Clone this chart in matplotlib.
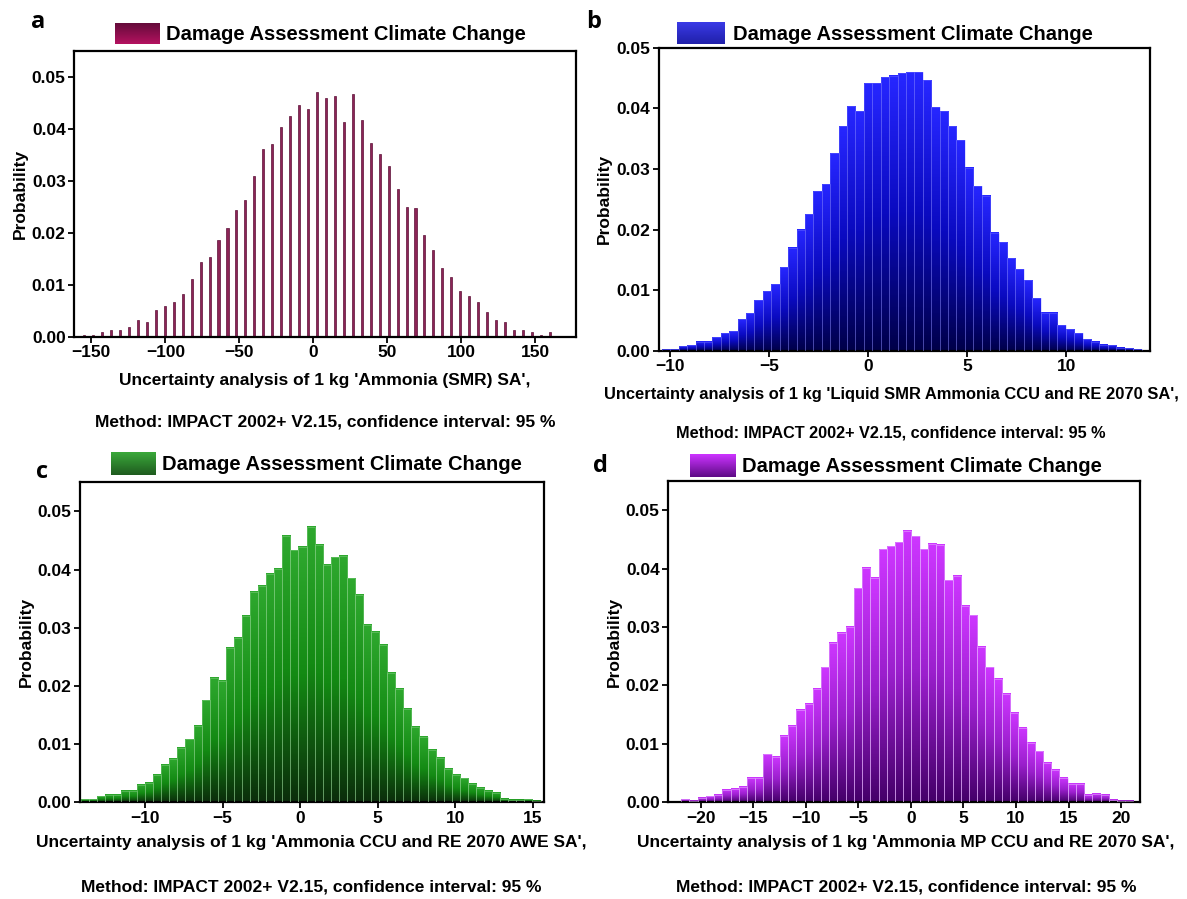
import numpy as np
import matplotlib
matplotlib.use("Agg")
import matplotlib.pyplot as plt
from matplotlib.colors import LinearSegmentedColormap

# ---------------- data ----------------
# Panel a: Ammonia (SMR) SA  (thin bars at bin centres)
a_start, a_step = -154.8, 6.05
a_vals = [0.0003, 0.0004, 0.0009, 0.0013, 0.0014, 0.0020, 0.0032, 0.0028, 0.0052, 0.0060,
          0.0068, 0.0083, 0.0111, 0.0145, 0.0154, 0.0187, 0.0210, 0.0244, 0.0263, 0.0310,
          0.0361, 0.0372, 0.0403, 0.0425, 0.0446, 0.0439, 0.0472, 0.0460, 0.0464, 0.0413,
          0.0467, 0.0418, 0.0374, 0.0351, 0.0329, 0.0285, 0.0250, 0.0248, 0.0197, 0.0168,
          0.0132, 0.0116, 0.0089, 0.0078, 0.0067, 0.0049, 0.0033, 0.0029, 0.0013, 0.0014,
          0.0010, 0.0003, 0.0009, 0.0002, 0.0002]

# Panel b: Liquid SMR Ammonia CCU and RE 2070 SA
b_start, b_step = -10.43, 0.425
b_vals = [0.0002, 0.0003, 0.0007, 0.0009, 0.0015, 0.0015, 0.0023, 0.0029, 0.0033, 0.0052,
          0.0062, 0.0083, 0.0098, 0.0110, 0.0138, 0.0170, 0.0200, 0.0226, 0.0264, 0.0275,
          0.0326, 0.0370, 0.0403, 0.0395, 0.0441, 0.0441, 0.0451, 0.0454, 0.0458, 0.0460,
          0.0460, 0.0446, 0.0402, 0.0395, 0.0371, 0.0347, 0.0302, 0.0271, 0.0256, 0.0195,
          0.0179, 0.0153, 0.0135, 0.0116, 0.0087, 0.0063, 0.0063, 0.0042, 0.0036, 0.0029,
          0.0019, 0.0015, 0.0010, 0.0009, 0.0005, 0.0004, 0.0002]

# Panel c: Ammonia CCU and RE 2070 AWE SA
c_start, c_step = -14.15, 0.52
c_vals = [0.0005, 0.0005, 0.0010, 0.0013, 0.0013, 0.0020, 0.0020, 0.0030, 0.0033, 0.0047,
          0.0064, 0.0075, 0.0094, 0.0108, 0.0131, 0.0175, 0.0214, 0.0209, 0.0265, 0.0283,
          0.0321, 0.0361, 0.0372, 0.0392, 0.0401, 0.0458, 0.0433, 0.0439, 0.0474, 0.0443,
          0.0408, 0.0421, 0.0423, 0.0385, 0.0357, 0.0305, 0.0293, 0.0271, 0.0223, 0.0195,
          0.0161, 0.0129, 0.0113, 0.0090, 0.0076, 0.0058, 0.0047, 0.0041, 0.0031, 0.0025,
          0.0019, 0.0016, 0.0006, 0.0004, 0.0004, 0.0005, 0.0002]

# Panel d: Ammonia MP CCU and RE 2070 SA
d_start, d_step = -22.62, 0.782
d_vals = [0.0001, 0.0005, 0.0003, 0.0008, 0.0010, 0.0012, 0.0021, 0.0023, 0.0027, 0.0042,
          0.0042, 0.0082, 0.0078, 0.0113, 0.0131, 0.0158, 0.0169, 0.0194, 0.0231, 0.0273,
          0.0290, 0.0300, 0.0366, 0.0401, 0.0384, 0.0433, 0.0438, 0.0445, 0.0465, 0.0455,
          0.0433, 0.0442, 0.0441, 0.0380, 0.0387, 0.0336, 0.0320, 0.0266, 0.0231, 0.0211,
          0.0186, 0.0153, 0.0128, 0.0101, 0.0087, 0.0067, 0.0055, 0.0042, 0.0031, 0.0031,
          0.0013, 0.0015, 0.0013, 0.0004, 0.0002, 0.0002, 0.0001]

legend_label = "Damage Assessment Climate Change"
method_label = "Method: IMPACT 2002+ V2.15, confidence interval: 95 %"
xlabels = ["Uncertainty analysis of 1 kg 'Ammonia (SMR) SA',",
           "Uncertainty analysis of 1 kg 'Liquid SMR Ammonia CCU and RE 2070 SA',",
           "Uncertainty analysis of 1 kg 'Ammonia CCU and RE 2070 AWE SA',",
           "Uncertainty analysis of 1 kg 'Ammonia MP CCU and RE 2070 SA',"]
panel_letters = ["a", "b", "c", "d"]
a_xticks = [-150, -100, -50, 0, 50, 100, 150]
b_xticks = [-10, -5, 0, 5, 10]
c_xticks = [-10, -5, 0, 5, 10, 15]
d_xticks = [-20, -15, -10, -5, 0, 5, 10, 15, 20]
yticks = [0.00, 0.01, 0.02, 0.03, 0.04, 0.05]

# ---------------- figure ----------------
W, H = 1187, 899
plt.rcParams['font.family'] = ['Liberation Sans', 'DejaVu Sans']
plt.rcParams['font.weight'] = 'bold'
fig = plt.figure(figsize=(W / 100, H / 100), dpi=100)


def rect(l, t, r, b):
    return [l / W, 1 - b / H, (r - l) / W, (b - t) / H]


def fx(x):
    return x / W


def fy(y):
    return 1 - y / H


def style_axes(ax, xlim, ylim, xticks, tick_fs=12.5):
    ax.set_xlim(*xlim)
    ax.set_ylim(*ylim)
    ax.set_xticks(xticks)
    ax.set_yticks(yticks)
    ax.set_yticklabels([f"{v:.2f}" for v in yticks])
    for s in ax.spines.values():
        s.set_linewidth(1.6)
        s.set_color('black')
    ax.tick_params(direction='out', length=4, width=1.3, labelsize=tick_fs,
                   top=False, right=False, pad=2)
    for lab in ax.get_xticklabels() + ax.get_yticklabels():
        lab.set_fontweight('bold')
    ax.set_ylabel("Probability", fontsize=12.5, fontweight='bold', labelpad=3)


def gradient_bars(ax, start, step, vals, cmap, edge):
    lefts = start + step * np.arange(len(vals))
    bars = ax.bar(lefts, vals, width=step, align='edge', facecolor='none',
                  edgecolor=edge, linewidth=0.6, zorder=3)
    grad = np.linspace(0, 1, 64).reshape(-1, 1)
    for p in bars.patches:
        x0, w, h = p.get_x(), p.get_width(), p.get_height()
        ax.imshow(grad, extent=(x0, x0 + w, 0, h), origin='lower', aspect='auto',
                  cmap=cmap, zorder=2, interpolation='bilinear')


def legend_patch(l, t, r, b, top_c, bot_c, text_x, text_y, fs=14.5):
    lax = fig.add_axes(rect(l, t, r, b))
    cm = LinearSegmentedColormap.from_list('lg', [bot_c, top_c])
    lax.imshow(np.linspace(0, 1, 32).reshape(-1, 1), origin='lower', aspect='auto', cmap=cm)
    lax.set_axis_off()
    fig.text(fx(text_x), fy(text_y), legend_label, ha='left', va='center',
             fontsize=fs, fontweight='bold')


# ---- panel a ----
axA = fig.add_axes(rect(74, 51, 576, 337))
a_centers = a_start + a_step * np.arange(len(a_vals))
axA.bar(a_centers, a_vals, width=1.4, color='#8c2456', edgecolor='#5c0f36',
        linewidth=0.5, zorder=2)
style_axes(axA, (-161.7, 177.5), (0, 0.055), a_xticks)

# ---- panel b ----
axB = fig.add_axes(rect(658.5, 47.7, 1149.6, 350.7))
cmB = LinearSegmentedColormap.from_list('b', ['#00004a', '#0a0ac0', '#2626ff'])
gradient_bars(axB, b_start, b_step, b_vals, cmB, (0.55, 0.55, 1.0, 0.35))
style_axes(axB, (-10.6, 14.2), (0, 0.05), b_xticks)

# ---- panel c ----
axC = fig.add_axes(rect(79.8, 482.3, 543.8, 802.3))
cmC = LinearSegmentedColormap.from_list('c', ['#0b2e0b', '#138a13', '#2ea82e'])
gradient_bars(axC, c_start, c_step, c_vals, cmC, (0.6, 0.85, 0.6, 0.45))
style_axes(axC, (-14.2, 15.7), (0, 0.055), c_xticks)

# ---- panel d ----
axD = fig.add_axes(rect(668, 481, 1140, 802.3))
cmD = LinearSegmentedColormap.from_list('d', ['#45006a', '#9a1fcc', '#cd36ff'])
gradient_bars(axD, d_start, d_step, d_vals, cmD, (0.9, 0.7, 1.0, 0.6))
style_axes(axD, (-23.1, 21.8), (0, 0.055), d_xticks)

# ---- labels ----
centers_x = [325, 891, 311, 906]
xlab_y = [380, 394, 842, 842]
meth_y = [421.7, 433, 887, 887]
xlab_fs = [12.5, 11.9, 12.5, 12.5]
meth_fs = [12.5, 11.7, 12.5, 12.5]
for i in range(4):
    fig.text(fx(centers_x[i]), fy(xlab_y[i]), xlabels[i], ha='center', va='center',
             fontsize=xlab_fs[i], fontweight='bold')
    fig.text(fx(centers_x[i]), fy(meth_y[i]), method_label, ha='center', va='center',
             fontsize=meth_fs[i], fontweight='bold')

letter_pos = [(38, 22), (594, 22), (42, 472), (600, 466)]
for (x, y), L in zip(letter_pos, panel_letters):
    fig.text(fx(x), fy(y), L, ha='center', va='center', fontsize=17,
             fontweight='bold', family=['Open Sans', 'DejaVu Sans'])

legend_patch(115, 23, 160, 44, '#650b3b', '#b3125f', 165.5, 34)
legend_patch(677, 22, 725, 44, '#3a3ae6', '#2020aa', 733, 34)
legend_patch(111, 452, 156, 475, '#3aa83a', '#1f5c1f', 162, 464)
legend_patch(690, 454, 736, 477, '#cc33ff', '#5e0c86', 742, 466)

fig.savefig("out.png", dpi=100)
